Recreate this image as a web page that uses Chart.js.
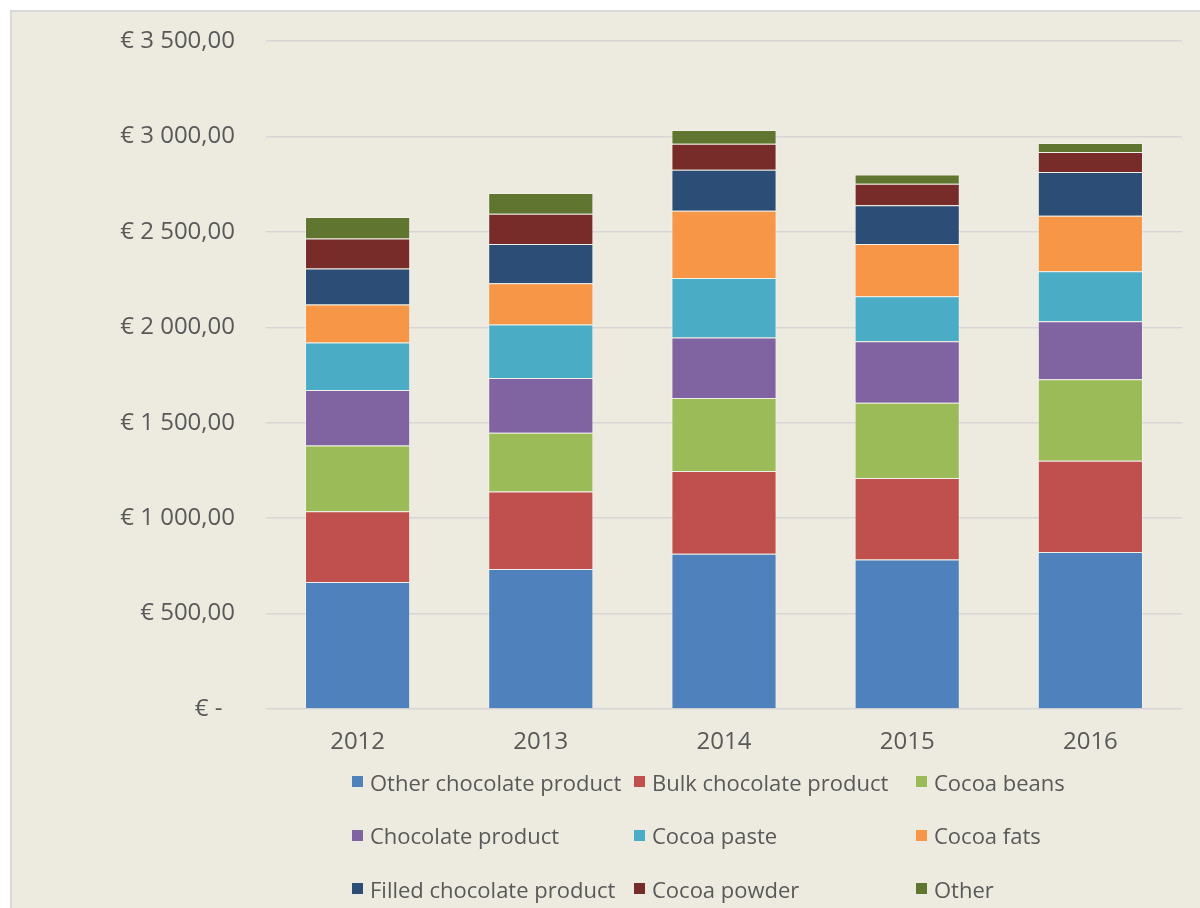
<!DOCTYPE html>
<html>
<head>
<meta charset="utf-8">
<title>Cocoa and chocolate imports by product</title>
<script src="https://cdn.jsdelivr.net/npm/chart.js@4/dist/chart.umd.min.js"></script>
<style>
  html, body { margin: 0; padding: 0; background: #fff; overflow: hidden; }
  .frame {
    position: absolute; left: 10px; top: 10px; width: 1200px; height: 908px;
    background: #EDEBE0; border-left: 2px solid #D9D9D9; border-top: 2px solid #D9D9D9;
  }
  #chart { position: absolute; left: 0; top: 0; }
  #legend {
    position: absolute; left: 352px; top: 755px;
    display: grid; grid-template-columns: repeat(3, 282px); grid-auto-rows: 53.5px;
    font-family: "Open Sans", sans-serif; font-size: 22px; color: #595959;
  }
  #legend .item { display: flex; align-items: center; white-space: nowrap; }
  #legend .swatch { width: 11px; height: 11px; margin-right: 7px; flex: none; }
</style>
</head>
<body>
<div class="frame"></div>
<canvas id="chart" width="1200" height="908"></canvas>
<div id="legend"></div>

<script>
// yearly values per product group, stacked bottom to top
const years = ["2012", "2013", "2014", "2015", "2016"];
const otherChocolate   = [665, 733, 813, 783, 822];
const bulkChocolate    = [371, 407, 434, 427, 479];
const cocoaBeans       = [345, 307, 383, 395, 427];
const chocolateProduct = [290, 287, 317, 322, 304];
const cocoaPaste       = [249, 280, 311, 235, 262];
const cocoaFats        = [199, 217, 352, 275, 291];
const filledChocolate  = [189, 205, 215, 202, 229];
const cocoaPowder      = [157, 159, 136, 113, 105];
const otherProducts    = [113, 109, 73, 49, 46];

const SERIES = [
  ["Other chocolate product", otherChocolate, "#4F81BD"],
  ["Bulk chocolate product", bulkChocolate, "#C0504D"],
  ["Cocoa beans", cocoaBeans, "#9BBB59"],
  ["Chocolate product", chocolateProduct, "#8064A2"],
  ["Cocoa paste", cocoaPaste, "#4BACC6"],
  ["Cocoa fats", cocoaFats, "#F79646"],
  ["Filled chocolate product", filledChocolate, "#2C4D75"],
  ["Cocoa powder", cocoaPowder, "#772C2A"],
  ["Other", otherProducts, "#5F7530"],
];

const TEXT = "#595959";
const GRID = "#D6D6D6";

// "€ 3 500,00" style, zero shown as a dash
function euro(v) {
  if (v === 0) return "€ -  ";
  const [int, dec] = v.toFixed(2).split(".");
  return "€ " + int.replace(/\B(?=(\d{3})+(?!\d))/g, " ") + "," + dec;
}

const chart = new Chart(document.getElementById("chart"), {
  type: "bar",
  data: {
    labels: years,
    datasets: SERIES.map(([label, data, color]) => ({
      label,
      data,
      backgroundColor: color,
      borderColor: "rgba(255,255,255,0.3)",
      borderWidth: 1,
      barPercentage: 0.574,
      categoryPercentage: 1,
    })),
  },
  options: {
    responsive: false,
    animation: false,
    layout: { padding: { left: 10, top: 41, right: 18, bottom: 159 } },
    plugins: { legend: { display: false }, tooltip: { enabled: false } },
    scales: {
      x: {
        stacked: true,
        grid: { display: false, drawTicks: false },
        border: { display: false },
        ticks: { color: TEXT, padding: 19, font: { family: "Open Sans", size: 24 } },
        afterFit: (scale) => { scale.height = 40; },
      },
      y: {
        stacked: true,
        min: 0,
        max: 3500,
        grid: { color: GRID, lineWidth: 1.5, drawTicks: false },
        border: { display: false },
        ticks: {
          stepSize: 500,
          color: TEXT,
          padding: 31,
          font: { family: "Open Sans", size: 24 },
          callback: (v) => euro(v),
        },
        // fixed axis width; the label gap shouldn't push the plot down
        afterFit: (scale) => {
          scale.width = 256;
          scale.paddingTop = 0;
          scale.paddingBottom = 0;
        },
      },
    },
  },
});

// legend laid out as a 3-column grid under the plot
const legend = document.getElementById("legend");
chart.data.datasets.forEach((ds) => {
  const item = document.createElement("div");
  item.className = "item";
  item.innerHTML = `<span class="swatch" style="background:${ds.backgroundColor}"></span><span>${ds.label}</span>`;
  legend.appendChild(item);
});
</script>
</body>
</html>
